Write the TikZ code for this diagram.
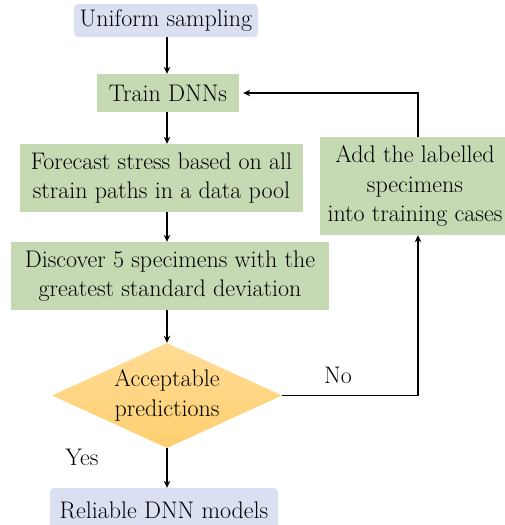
\documentclass[tikz,border=0pt]{standalone}
\usetikzlibrary{shapes.geometric,arrows.meta}
\definecolor{bluebox}{HTML}{DAE0F2}
\definecolor{greenbox}{HTML}{C5D9B3}
\definecolor{orangeT}{HTML}{FFDC95}
\definecolor{orangeB}{HTML}{FECF70}
\tikzset{
  txt/.style={font=\fontsize{24}{29.5}\selectfont, align=center, inner sep=0pt},
  bluebox/.style={txt, fill=bluebox, rounded corners=4pt},
  greenbox/.style={txt, fill=greenbox},
  decision/.style={txt, diamond, top color=orangeT, bottom color=orangeB, draw=none, minimum width=230pt, minimum height=105pt, aspect=2.19},
  arr/.style={line width=1.3pt, -{Stealth[length=7pt,width=6.5pt]}},
  lbl/.style={font=\fontsize{24}{29.5}\selectfont, inner sep=0pt},
}
\begin{document}
\begin{tikzpicture}[x=1pt,y=-1pt]
\useasboundingbox (0,0) rectangle (505,525);
\node[bluebox, minimum width=184pt, minimum height=33pt] (uni) at (166,20.5) {Uniform sampling};
\node[greenbox, minimum width=142pt, minimum height=38pt] (train) at (168,93) {Train DNNs};
\node[greenbox, minimum width=283pt, minimum height=68pt] (fore) at (161.5,178) {Forecast stress based on all\\strain paths in a data pool};
\node[greenbox, minimum width=318pt, minimum height=68pt] (disc) at (170,276) {Discover 5 specimens with the\\greatest standard deviation};
\node[greenbox, minimum width=190pt, minimum height=98pt] (add) at (415,186) {Add the labelled\\specimens\\into training cases};
\node[decision] (dec) at (167,395.5) {Acceptable\\predictions};
\node[bluebox, minimum width=228pt, minimum height=48pt, text depth=0pt] (rel) at (164,512) {\raisebox{4pt}{Reliable DNN models}};
\node[lbl] (no) at (338,375) {No};
\node[lbl] (yes) at (82,457) {Yes};
\coordinate (c1) at (418,395.5);
\coordinate (c2) at (418,93);
\draw[arr] (uni.south -| 167,0) -- (train.north -| 167,0);
\draw[arr] (train.south -| 167,0) -- (fore.north -| 167,0);
\draw[arr] (fore.south -| 167,0) -- (disc.north -| 167,0);
\draw[arr] (disc.south -| 167,0) -- (dec.north);
\draw[arr] (dec.south) -- (rel.north -| 167,0);
\draw[arr] (dec.east) -- (c1) -- (add.south -| c1);
\draw[arr] (add.north -| c2) -- (c2) -- ([xshift=4pt]train.east);
\end{tikzpicture}
\end{document}
